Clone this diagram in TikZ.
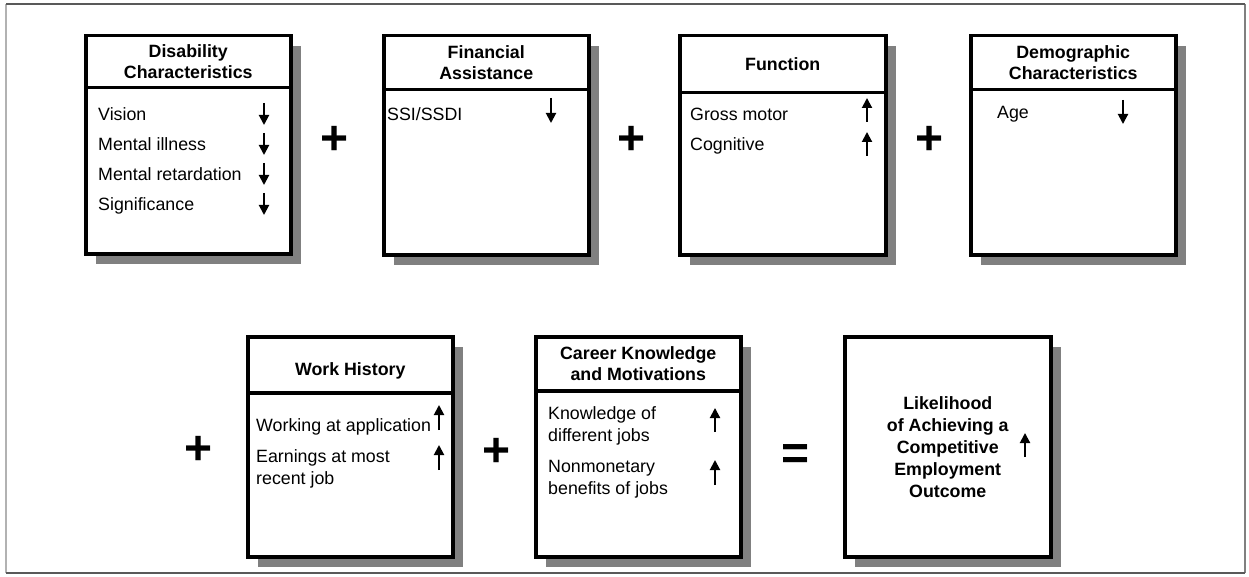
\documentclass[tikz,border=0pt]{standalone}
\usepackage{fontspec}
\setmainfont{Liberation Sans}
\usetikzlibrary{positioning,shadows,arrows.meta}

\newcommand\headfont{\fontsize{17.8}{21}\selectfont\bfseries}
\newcommand\itemfont{\fontsize{17.8}{22}\selectfont}
\newcommand\opfont{\fontsize{48}{48}\selectfont\bfseries}

\begin{document}
\begin{tikzpicture}[x=1pt, y=-1pt,
  panel/.style={draw, line width=3.5pt, fill=white, minimum width=205pt, inner sep=0pt,
    anchor=north west, drop shadow={shadow xshift=10pt, shadow yshift=-10pt, fill=black!50, opacity=1}},
  head/.style={draw, line width=3.5pt, fill=white, minimum width=205pt, inner sep=0pt,
    align=center, font=\headfont},
  item/.style={anchor=base west, align=left, inner sep=0pt, font=\itemfont},
  op/.style={inner sep=0pt, font=\opfont},
  rise/.style={-{Triangle[width=10pt,length=10pt]}, line width=2pt},
  fall/.style={rise}]

\useasboundingbox (0,0) rectangle (1249,577);

%frame
\draw[line width=1.5pt, black!30] (6,4) -- (6,573);
\draw[line width=1.5pt, black!50] (1245,4) -- (1245,573);
\draw[line width=1.5pt, black!65] (6,4) -- (1245,4);
\draw[line width=1.5pt, black!65] (6,573) -- (1245,573);

%top row
\node[panel, minimum height=218pt] (disb) at (84,34) {};
\node[head, minimum height=52pt, below=0pt of disb.north] (dis) {Disability\\Characteristics};
\node[item] (vis) at (98,121) {Vision};
\node[item] (ill) at (98,151) {Mental illness};
\node[item] (ret) at (98,181) {Mental retardation};
\node[item] (sig) at (98,211) {Significance};
\foreach \y in {0,30,60,90}
  \draw[fall] (264,103+\y) -- (264,125+\y);

\node[op] (p1) at (335,140) {+};

\node[panel, minimum height=219pt] (finb) at (382,34) {};
\node[head, minimum height=54pt, below=0pt of finb.north] (fin) {Financial\\Assistance};
\node[item] (ssi) at (387,121) {SSI/SSDI};
\draw[fall] (551,98) -- (551,123);

\node[op] (p2) at (632,140) {+};

\node[panel, minimum height=219pt, minimum width=206pt] (funb) at (678,34) {};
\node[head, minimum height=57pt, minimum width=206pt, below=0pt of funb.north] (fun) {Function};
\node[item] (gro) at (690,121) {Gross motor};
\node[item] (cog) at (690,151) {Cognitive};
\draw[rise] (867,122) -- (867,98);
\draw[rise] (867,156) -- (867,132);

\node[op] (p3) at (930,140) {+};

\node[panel, minimum height=219pt] (demb) at (969,34) {};
\node[head, minimum height=54pt, below=0pt of demb.north] (dem) {Demographic\\Characteristics};
\node[item] (age) at (997,119) {Age};
\draw[fall] (1123,100) -- (1123,124);

%bottom row
\node[op] (p4) at (199,450) {+};

\node[panel, minimum height=220pt] (wrkb) at (246,335) {};
\node[head, minimum height=56pt, below=0pt of wrkb.north] (wrk) {\mbox{}\\[4pt]Work History};
\node[item] (app) at (256,431) {Working at application};
\node[item] (ern) at (256,484) {Earnings at most\\recent job};
\draw[rise] (439,430) -- (439,405);
\draw[rise] (439,470) -- (439,445);

\node[op] (p5) at (497,452) {+};

\node[panel, minimum height=220pt] (carb) at (534,335) {};
\node[head, minimum height=54pt, below=0pt of carb.north] (car) {Career Knowledge\\and Motivations};
\node[item] (kno) at (548,441) {Knowledge of\\different jobs};
\node[item] (non) at (548,494) {Nonmonetary\\benefits of jobs};
\draw[rise] (715,432) -- (715,408);
\draw[rise] (715,485) -- (715,460);

\node[op] (eq) at (796,457) {=};

\node[panel, minimum height=220pt, minimum width=206pt, align=center,
  font=\fontsize{17.8}{22}\selectfont\bfseries] (out) at (843,335)
  {Likelihood\\of Achieving a\\Competitive\\Employment\\Outcome};
\draw[rise] (1025,457) -- (1025,433);

\end{tikzpicture}
\end{document}
